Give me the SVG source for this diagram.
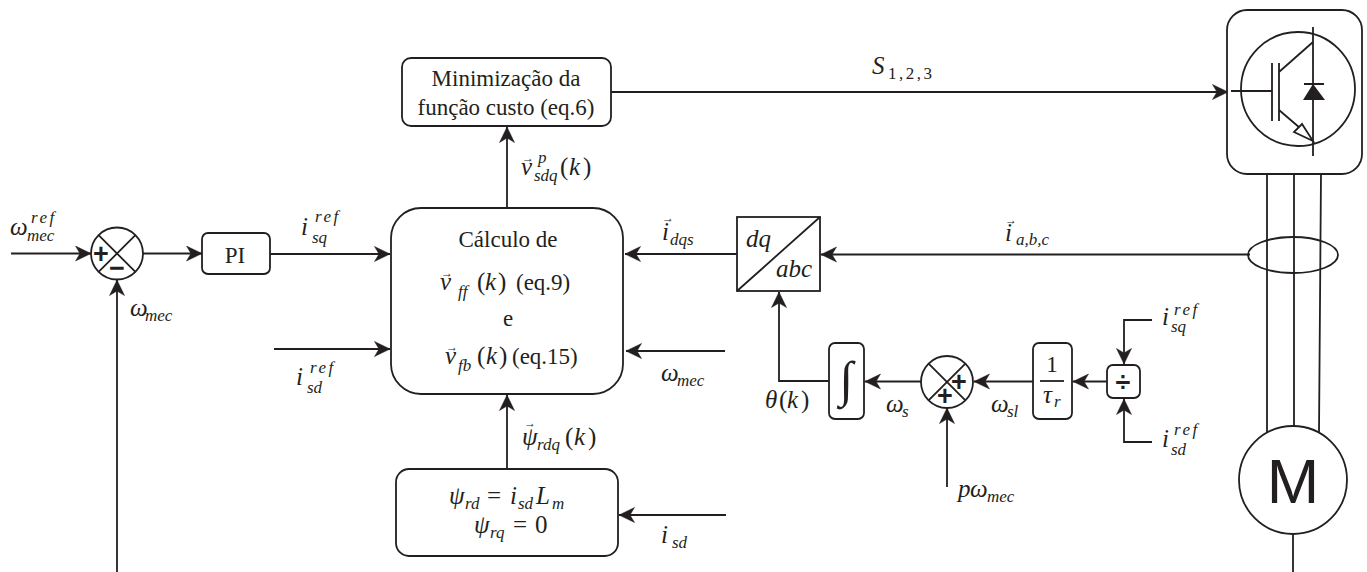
<svg xmlns="http://www.w3.org/2000/svg" width="1367" height="572" viewBox="0 0 1367 572">
<style>
.b{fill:#fff;stroke:#231f20;stroke-width:1.8}
.n{fill:none;stroke:#231f20;stroke-width:1.8}
.c{fill:none;stroke:#231f20;stroke-width:1.8;marker-end:url(#a)}
text{fill:#231f20;font-family:"Liberation Serif",serif;font-size:23px}
.t{text-anchor:middle}
.m{font-style:italic;font-size:25px}
.m tspan.s{font-size:17px}
.m tspan.r{font-size:17px;letter-spacing:2.5px}
.m tspan.u{font-style:normal}
.m tspan.v{font-style:normal;font-size:12px}
.o{font-family:"Liberation Sans",sans-serif;font-weight:bold;font-size:27px;text-anchor:middle}
</style>
<defs>
<marker id="a" markerUnits="userSpaceOnUse" markerWidth="18" markerHeight="18" refX="16" refY="8" orient="auto" viewBox="0 0 18 18">
<path d="M0.5 0.5L16 8L0.5 15.5L5 8Z" fill="#231f20" stroke="#231f20" stroke-width="0.5"/>
</marker>
</defs>
<rect width="1367" height="572" fill="#fff"/>
<g id="connectors">
<path class="c" d="M11 253.500H91"/>
<path class="c" d="M143 253.500H202"/>
<path class="c" d="M270 254H390"/>
<path class="c" d="M274 349H390"/>
<path class="c" d="M117 572V280"/>
<path class="c" d="M507 208V127"/>
<path class="c" d="M611 92H1228"/>
<path class="c" d="M737 254H625"/>
<path class="c" d="M725 351H626"/>
<path class="c" d="M1250 254.500H821"/>
<path class="c" d="M829 381H779V292"/>
<path class="c" d="M921 381.500H865"/>
<path class="c" d="M1033 381.500H974"/>
<path class="c" d="M1107 381.500H1073"/>
<path class="c" d="M1152 320H1124V364"/>
<path class="c" d="M1152 442H1124V399"/>
<path class="c" d="M947 487V408"/>
<path class="c" d="M507 469V395"/>
<path class="c" d="M726 515H619"/>
<path class="n" d="M1267 174V433M1294 174V427M1321 174L1319 433M1293 534V572"/>
</g>
<g id="sum1"><circle class="b" cx="117" cy="253.500" r="26"/><path class="n" d="M98.600 235.100L135.400 271.900M135.400 235.100L98.600 271.900"/><text class="o" x="101" y="263">+</text><text class="o" x="117" y="277">−</text></g>
<g id="pi"><rect class="b" x="202" y="233" width="68" height="41" rx="6"/><text class="t" x="235" y="263">PI</text></g>
<g id="calculo"><rect class="b" x="391" y="208" width="232" height="186" rx="30"/>
<text class="t" x="508" y="247">Cálculo de</text>
<text class="m" x="440" y="290">v<tspan class="v" x="441" y="277">→</tspan><tspan class="s" x="458" y="297">ff</tspan><tspan class="u" x="477" y="290">(</tspan><tspan x="485" y="290">k</tspan><tspan class="u" x="498" y="290">)</tspan></text>
<text x="516" y="290">(eq.9)</text>
<text class="t" x="508" y="326">e</text>
<text class="m" x="445" y="364">v<tspan class="v" x="446" y="351">→</tspan><tspan class="s" x="458" y="371">fb</tspan><tspan class="u" x="477" y="364">(</tspan><tspan x="486" y="364">k</tspan><tspan class="u" x="499" y="364">)</tspan></text>
<text x="512" y="364">(eq.15)</text></g>
<g id="minimizacao"><rect class="b" x="402" y="58" width="209" height="68" rx="9"/>
<text class="t" x="506" y="86">Minimização da</text><text class="t" x="506" y="115">função custo (eq.6)</text></g>
<g id="psi"><rect class="b" x="396" y="469" width="222" height="87" rx="13"/>
<text class="m" x="449" y="504">ψ<tspan class="s" x="465" y="509">rd</tspan><tspan class="u" x="487" y="504">=</tspan><tspan x="510" y="504">i</tspan><tspan class="s" x="518" y="509">sd</tspan><tspan x="536" y="504">L</tspan><tspan class="s" x="552" y="509">m</tspan></text>
<text class="m" x="474" y="533">ψ<tspan class="s" x="490" y="538">rq</tspan><tspan class="u" x="513" y="533">=</tspan><tspan class="u" x="535" y="533">0</tspan></text></g>
<g id="dqabc"><rect class="b" x="737" y="217" width="83" height="74"/><path class="n" d="M737 291L820 217"/>
<text class="m" x="746" y="247">dq</text><text class="m" x="776" y="277">abc</text></g>
<g id="integrador"><rect class="b" x="829" y="343" width="35" height="76" rx="6"/><text class="t" style="font-size:50px;font-style:italic" x="846" y="396">∫</text></g>
<g id="sum2"><circle class="b" cx="947" cy="382" r="26"/><path class="n" d="M928.600 363.600L965.400 400.400M965.400 363.600L928.600 400.400"/><text class="o" x="959" y="391">+</text><text class="o" x="945" y="405">+</text></g>
<g id="ganho"><rect class="b" x="1033" y="343" width="39" height="76" rx="6"/><path class="n" d="M1040 381H1064"/><text class="t" x="1052" y="372">1</text><text class="m" x="1043" y="403">τ<tspan class="s" x="1054" y="407">r</tspan></text></g>
<g id="divisor"><rect class="b" x="1107" y="365" width="33" height="33" rx="6"/><text class="o" x="1123" y="391">÷</text></g>
<g id="inversor"><rect class="b" x="1227" y="10" width="135" height="164" rx="20"/><circle class="n" cx="1298" cy="89" r="57"/>
<path class="n" d="M1231 91H1272M1272 63V121M1279 63V121M1279 72L1313 42M1279 110L1300 128M1313 27V156M1304 84H1324"/>
<path d="M1313 84L1303 100H1325Z" fill="#231f20"/>
<path d="M1313 141L1294 132L1302 124Z" fill="#fff" stroke="#231f20" stroke-width="1.8"/></g>
<g id="sensor"><ellipse class="n" cx="1293" cy="255" rx="45" ry="18"/></g>
<g id="motor"><circle class="b" cx="1293" cy="480" r="54"/><text class="t" x="1293" y="503" style="font-family:'Liberation Sans',sans-serif;font-size:63px">M</text></g>
<g id="labels">
<text class="m" x="10" y="235">ω<tspan class="r" x="31" y="223">ref</tspan><tspan class="s" x="27" y="241">mec</tspan></text>
<text class="m" x="301" y="235">i<tspan class="r" x="315" y="222">ref</tspan><tspan class="s" x="312" y="243">sq</tspan></text>
<text class="m" x="130" y="316">ω<tspan class="s" x="145" y="321">mec</tspan></text>
<text class="m" x="296" y="385">i<tspan class="r" x="310" y="373">ref</tspan><tspan class="s" x="307" y="393">sd</tspan></text>
<text class="m" x="872" y="74">S<tspan class="r u" x="888" y="79">1,2,3</tspan></text>
<text class="m" x="521" y="175">v<tspan class="v" x="522" y="162">→</tspan><tspan class="r" x="538" y="163">p</tspan><tspan class="s" x="534" y="181">sdq</tspan><tspan class="u" x="560" y="175">(</tspan><tspan x="569" y="175">k</tspan><tspan class="u" x="583" y="175">)</tspan></text>
<text class="m" x="662" y="240">i<tspan class="v" x="662" y="222">→</tspan><tspan class="s" x="670" y="245">dqs</tspan></text>
<text class="m" x="661" y="381">ω<tspan class="s" x="677" y="386">mec</tspan></text>
<text class="m" x="522" y="445">ψ<tspan class="v" x="524" y="427">→</tspan><tspan class="s" x="537" y="450">rdq</tspan><tspan class="u" x="565" y="445">(</tspan><tspan x="574" y="445">k</tspan><tspan class="u" x="588" y="445">)</tspan></text>
<text class="m" x="661" y="543">i<tspan class="s" x="672" y="548">sd</tspan></text>
<text class="m" x="1005" y="241">i<tspan class="v" x="1005" y="224">→</tspan><tspan class="s" x="1016" y="245">a,b,c</tspan></text>
<text class="m" x="765" y="408">θ<tspan class="u" x="779" y="408">(</tspan><tspan x="787" y="408">k</tspan><tspan class="u" x="801" y="408">)</tspan></text>
<text class="m" x="886" y="412">ω<tspan class="s" x="902" y="417">s</tspan></text>
<text class="m" x="991" y="412">ω<tspan class="s" x="1007" y="417">sl</tspan></text>
<text class="m" x="958" y="497">p<tspan x="970" y="497">ω</tspan><tspan class="s" x="987" y="502">mec</tspan></text>
<text class="m" x="1162" y="325">i<tspan class="r" x="1174" y="315">ref</tspan><tspan class="s" x="1171" y="332">sq</tspan></text>
<text class="m" x="1162" y="447">i<tspan class="r" x="1174" y="435">ref</tspan><tspan class="s" x="1171" y="455">sd</tspan></text>
</g>
</svg>
